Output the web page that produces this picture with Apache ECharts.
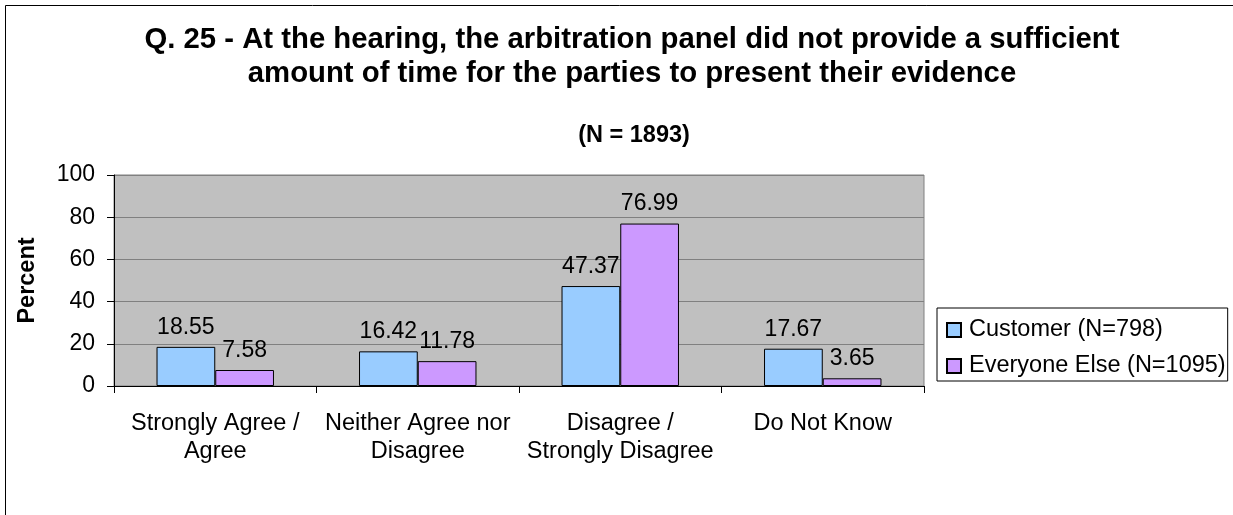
<!DOCTYPE html>
<html>
<head>
<meta charset="utf-8">
<script src="https://cdn.jsdelivr.net/npm/echarts@6/dist/echarts.min.js"></script>
<style>
html,body{margin:0;padding:0;background:#fff;}
#chart{width:1233px;height:515px;}
</style>
</head>
<body>
<div id="chart"></div>
<script>
const categories = ['Strongly Agree /\nAgree', 'Neither Agree nor\nDisagree', 'Disagree /\nStrongly Disagree', 'Do Not Know'];
const customerValues = [18.55, 16.42, 47.37, 17.67];
const everyoneValues = [7.58, 11.78, 76.99, 3.65];
const seriesNames = ['Customer (N=798)', 'Everyone Else (N=1095)'];
const yTicks = [0, 20, 40, 60, 80, 100];

const FONT = '"Liberation Sans", Arial, sans-serif';
const chart = echarts.init(document.getElementById('chart'), null, {renderer: 'canvas'});

const labelStyle = {show: true, position: 'top', distance: 8, color: '#000', fontSize: 23, fontFamily: FONT,
  formatter: p => p.value.toFixed(2)};

chart.setOption({
  animation: false,
  backgroundColor: '#fff',
  textStyle: {fontFamily: FONT},
  graphic: [{
    type: 'rect', left: 3, top: 3, shape: {width: 1240, height: 530},
    style: {fill: 'none', stroke: '#000', lineWidth: 1}, silent: true, z: -1
  }],
  title: [{
    text: 'Q. 25 - At the hearing, the arbitration panel did not provide a sufficient\namount of time for the parties to present their evidence',
    left: 632, top: 23, textAlign: 'center', padding: 0,
    textStyle: {fontSize: 29.3, fontWeight: 'bold', color: '#000', fontFamily: FONT, lineHeight: 34}
  }, {
    text: '(N = 1893)',
    left: 634, top: 124, textAlign: 'center', padding: 0,
    textStyle: {fontSize: 23.5, fontWeight: 'bold', color: '#000', fontFamily: FONT, lineHeight: 24}
  }],
  legend: {
    orient: 'vertical', left: 937, top: 308,
    padding: [10, 2, 3, 9], itemGap: 12,
    borderColor: '#000', borderWidth: 1,
    itemWidth: 14, itemHeight: 14, icon: 'rect',
    textStyle: {fontSize: 23.5, color: '#000', fontFamily: FONT, padding: [0, 0, 0, 3]},
    data: seriesNames
  },
  grid: {left: 114, top: 175, width: 810, height: 211, show: true,
    backgroundColor: '#c0c0c0', borderColor: '#808080', borderWidth: 1},
  xAxis: {
    type: 'category', data: categories,
    axisLine: {lineStyle: {color: '#000'}},
    axisTick: {show: true, length: 7, lineStyle: {color: '#000'}},
    axisLabel: {color: '#000', fontSize: 23.5, fontFamily: FONT, lineHeight: 28, margin: 24, interval: 0}
  },
  yAxis: {
    type: 'value', min: 0, max: 100, interval: 20,
    name: 'Percent', nameLocation: 'middle', nameGap: 74, nameRotate: 90,
    nameTextStyle: {fontSize: 23.5, fontWeight: 'bold', color: '#000', fontFamily: FONT},
    axisLine: {show: true, lineStyle: {color: '#000'}},
    axisTick: {show: true, length: 7, lineStyle: {color: '#000'}},
    axisLabel: {color: '#000', fontSize: 23, fontFamily: FONT, margin: 19,
      formatter: v => yTicks.includes(v) ? String(v) : ''},
    splitLine: {show: true, lineStyle: {color: '#808080', width: 1}}
  },
  series: [{
    name: seriesNames[0], type: 'bar', data: customerValues,
    barGap: '0%', barCategoryGap: '42%',
    itemStyle: {color: '#99ccff', borderColor: '#000', borderWidth: 1},
    label: labelStyle
  }, {
    name: seriesNames[1], type: 'bar', data: everyoneValues,
    barGap: '0%', barCategoryGap: '42%',
    itemStyle: {color: '#cc99ff', borderColor: '#000', borderWidth: 1},
    label: labelStyle
  }]
});
</script>
</body>
</html>
